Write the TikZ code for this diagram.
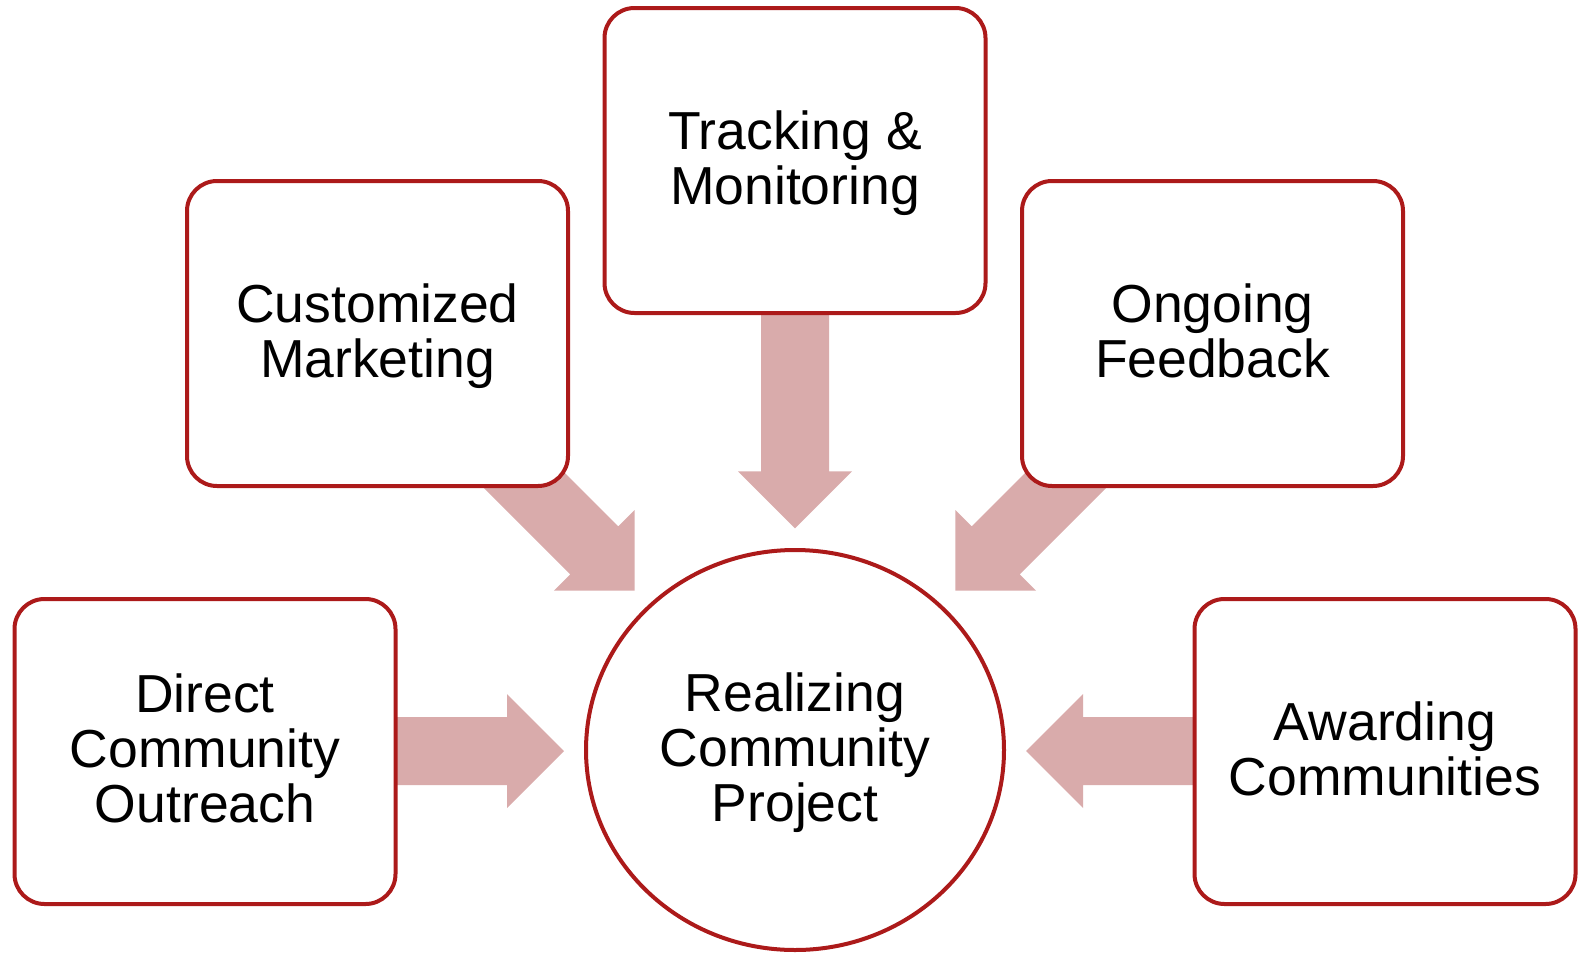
\documentclass[tikz,border=0pt]{standalone}
\usepackage{fontspec}
\setmainfont{Liberation Sans}
\usetikzlibrary{shapes.geometric}
\definecolor{boxred}{RGB}{172,26,26}
\definecolor{arrowpink}{RGB}{217,171,171}
\pgfdeclarelayer{edgelayer}
\pgfsetlayers{edgelayer,main}
% fixed line height so lines sit as in the original
\newcommand{\ls}{\rule[-11.5pt]{0pt}{55pt}}
% block arrow: tip, direction, length
\newcommand{\blockarrow}[3]{%
  \begin{scope}[shift={(#1)}, rotate=#2]
    \fill[arrowpink] (0,0) -- (-57,57) -- (-57,34) -- (-#3,34) -- (-#3,-34)
      -- (-57,-34) -- (-57,-57) -- cycle;
  \end{scope}}

\begin{document}
\begin{tikzpicture}[x=1pt,y=1pt,
    stepbox/.style={draw=boxred, line width=4pt, fill=white, rounded corners=30pt,
      minimum width=381pt, minimum height=305pt, inner sep=0pt, align=center,
      font=\fontsize{53.5}{55}\selectfont},
    hub/.style={ellipse, draw=boxred, line width=4pt, fill=white,
      minimum width=418pt, minimum height=400pt, inner sep=0pt, align=center,
      font=\fontsize{53.5}{55}\selectfont}]

    \useasboundingbox (0,0) rectangle (1581,-953);

    % boxes
    \node [stepbox] (track) at (795, -160.5) {\ls Tracking \&\\\ls Monitoring};
    \node [stepbox] (market) at (377.5, -333.5) {\ls Customized\\\ls Marketing};
    \node [stepbox] (feedback) at (1212.5, -333.5) {\ls Ongoing\\\ls Feedback};
    \node [stepbox] (outreach) at (205, -751.5) {\ls Direct\\\ls Community\\\ls Outreach};
    \node [stepbox] (award) at (1385, -751.5) {\ls Awarding\\\ls Communities};
    \node [hub] (project) at (795, -750) {\ls Realizing\\\ls Community\\\ls Project};

    % arrow tips
    \coordinate (tipT) at (795, -528.3);
    \coordinate (tipM) at (634.6, -590.7);
    \coordinate (tipF) at (955.4, -590.7);
    \coordinate (tipO) at (564, -751);
    \coordinate (tipA) at (1026, -751);

    % arrows
    \begin{pgfonlayer}{edgelayer}
        \blockarrow{tipT}{-90}{228}
        \blockarrow{tipM}{-45}{190}
        \blockarrow{tipF}{-135}{190}
        \blockarrow{tipO}{0}{184}
        \blockarrow{tipA}{180}{184}
    \end{pgfonlayer}
\end{tikzpicture}
\end{document}
